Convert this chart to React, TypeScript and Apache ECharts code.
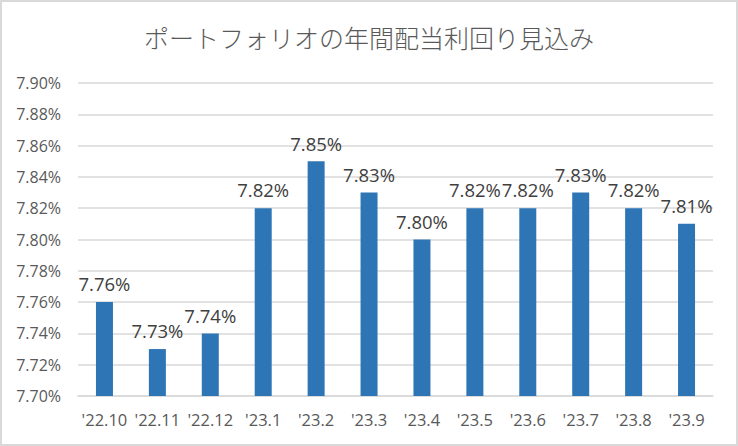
import React, { useEffect, useRef } from "react";
import * as echarts from "echarts";

const TITLE = "ポートフォリオの年間配当利回り見込み";
const categories = ["'22.10", "'22.11", "'22.12", "'23.1", "'23.2", "'23.3", "'23.4", "'23.5", "'23.6", "'23.7", "'23.8", "'23.9"];
const yields = [7.76, 7.73, 7.74, 7.82, 7.85, 7.83, 7.80, 7.82, 7.82, 7.83, 7.82, 7.81];
const yMin = 7.7;
const yMax = 7.9;
const yStep = 0.02;

const FONT = "'Open Sans', 'Noto Sans CJK JP', sans-serif";

export default function App() {
  const ref = useRef<HTMLDivElement>(null);
  useEffect(() => {
    if (!ref.current) return;
    const chart = echarts.init(ref.current, undefined, { renderer: "svg" });
    chart.setOption({
      animation: false,
      backgroundColor: "#ffffff",
      title: {
        text: TITLE,
        left: "center",
        top: 17,
        textStyle: {
          fontFamily: "'Noto Sans CJK JP', sans-serif",
          fontSize: 25,
          fontWeight: 300,
          color: "#595959",
        },
      },
      grid: { left: 76, right: 23, top: 81, bottom: 48 },
      xAxis: {
        type: "category",
        data: categories,
        axisLine: { lineStyle: { color: "#D9D9D9", width: 1.5 } },
        axisTick: { show: false },
        axisLabel: { color: "#595959", fontSize: 16.5, fontFamily: FONT, margin: 15, interval: 0 },
      },
      yAxis: {
        type: "value",
        min: yMin,
        max: yMax,
        interval: yStep,
        axisLine: { show: false },
        axisTick: { show: false },
        splitLine: { lineStyle: { color: "#D9D9D9", width: 1.5 } },
        axisLabel: {
          color: "#595959",
          fontSize: 16,
          fontFamily: FONT,
          margin: 17,
          formatter: (v: number) => v.toFixed(2) + "%",
        },
      },
      series: [
        {
          type: "bar",
          data: yields,
          barWidth: 17,
          itemStyle: { color: "#2E75B6" },
          label: {
            show: true,
            position: "top",
            distance: 9,
            color: "#404040",
            fontSize: 18.5,
            fontFamily: FONT,
            formatter: (p: any) => p.value.toFixed(2) + "%",
          },
        },
      ],
    });
    return () => chart.dispose();
  }, []);
  return (
    <div
      style={{
        position: "fixed",
        left: 0,
        top: 0,
        width: 738,
        height: 446,
        boxSizing: "border-box",
        border: "2px solid #D9D9D9",
        background: "#fff",
        overflow: "hidden",
      }}
    >
      <div ref={ref} style={{ position: "absolute", left: 0, top: 0, width: 734, height: 442 }} />
    </div>
  );
}
